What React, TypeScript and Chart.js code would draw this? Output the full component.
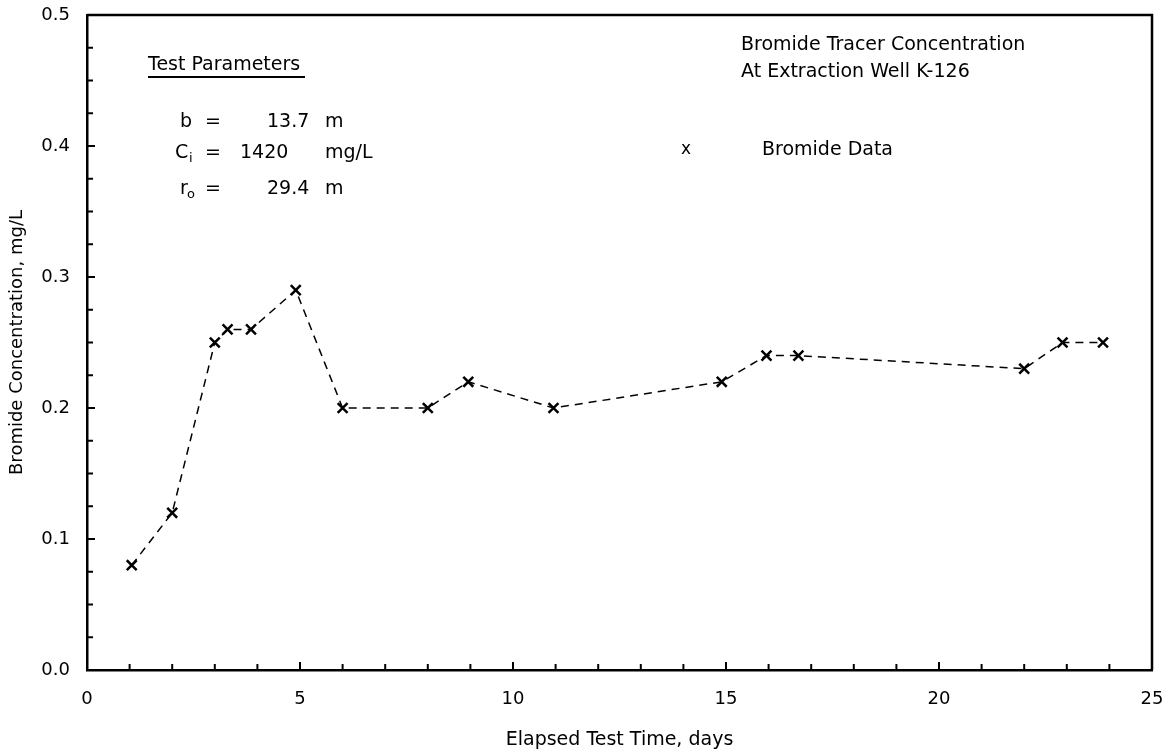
import React, { useEffect, useRef } from "react";
import { Chart, registerables } from "chart.js";

Chart.register(...registerables);

// ---- data ----
const elapsedDays: number[] = [1.05, 2.0, 3.0, 3.3, 3.85, 4.9, 6.0, 8.0, 8.95, 10.95, 14.9, 15.95, 16.7, 22.0, 22.9, 23.85];
const bromideMgL: number[] = [0.08, 0.12, 0.25, 0.26, 0.26, 0.29, 0.2, 0.2, 0.22, 0.2, 0.22, 0.24, 0.24, 0.23, 0.25, 0.25];
const xTickValues: number[] = [0, 5, 10, 15, 20, 25];
const yTickValues: number[] = [0.0, 0.1, 0.2, 0.3, 0.4, 0.5];
const seriesName = "Bromide Data";
const chartTitleLines: string[] = ["Bromide Tracer Concentration", "At Extraction Well K-126"];
const xAxisTitle = "Elapsed Test Time, days";
const yAxisTitle = "Bromide Concentration, mg/L";

const FONT = "'DejaVu Sans', 'Liberation Sans', Arial, sans-serif";

const innerTicksAndText = {
  id: "innerTicksAndText",
  afterDraw(chart: any) {
    const { ctx, chartArea, scales } = chart;
    const xs = scales.x;
    const ys = scales.y;
    ctx.save();
    ctx.strokeStyle = "#000";
    // frame top & right
    ctx.lineWidth = 2.5;
    ctx.beginPath();
    ctx.moveTo(chartArea.left, chartArea.top);
    ctx.lineTo(chartArea.right, chartArea.top);
    ctx.lineTo(chartArea.right, chartArea.bottom);
    ctx.stroke();
    // inner ticks x
    ctx.lineWidth = 2;
    for (let v = xs.min; v <= xs.max + 1e-9; v += 1) {
      if (v === xs.min || v === xs.max) continue;
      const px = xs.getPixelForValue(v);
      const len = Math.round(v) % 5 === 0 ? 8 : 6;
      ctx.beginPath();
      ctx.moveTo(px, chartArea.bottom);
      ctx.lineTo(px, chartArea.bottom - len);
      ctx.stroke();
    }
    // inner ticks y
    for (let i = 1; i < 20; i++) {
      const v = i * 0.025;
      const py = ys.getPixelForValue(v);
      const len = i % 4 === 0 ? 8 : 6;
      ctx.beginPath();
      ctx.moveTo(chartArea.left, py);
      ctx.lineTo(chartArea.left + len, py);
      ctx.stroke();
    }

    // annotations
    ctx.fillStyle = "#000";
    ctx.textBaseline = "middle";
    ctx.textAlign = "left";
    ctx.font = `19px ${FONT}`;
    ctx.fillText("Test Parameters", 148, 65);
    ctx.lineWidth = 2;
    ctx.beginPath();
    ctx.moveTo(148, 77);
    ctx.lineTo(305, 77);
    ctx.stroke();

    // b row
    ctx.fillText("b", 180, 122);
    ctx.fillText("=", 205, 122);
    ctx.fillText("13.7", 267, 122);
    ctx.fillText("m", 325, 122);
    // Ci row
    ctx.fillText("C", 175, 153);
    ctx.font = `13px ${FONT}`;
    ctx.fillText("i", 189, 159);
    ctx.font = `19px ${FONT}`;
    ctx.fillText("=", 205, 153);
    ctx.fillText("1420", 240, 153);
    ctx.fillText("mg/L", 325, 153);
    // ro row
    ctx.fillText("r", 180, 189);
    ctx.font = `13px ${FONT}`;
    ctx.fillText("o", 187, 195);
    ctx.font = `19px ${FONT}`;
    ctx.fillText("=", 205, 189);
    ctx.fillText("29.4", 267, 189);
    ctx.fillText("m", 325, 189);

    // title lines
    ctx.fillText(chartTitleLines[0], 741, 45);
    ctx.fillText(chartTitleLines[1], 741, 72);

    // legend
    ctx.font = `17px ${FONT}`;
    ctx.textAlign = "center";
    ctx.fillText("x", 686, 150);
    ctx.textAlign = "left";
    ctx.font = `19px ${FONT}`;
    ctx.fillText(seriesName, 762, 150);
    ctx.restore();
  },
};

export default function App() {
  const canvasRef = useRef<HTMLCanvasElement | null>(null);

  useEffect(() => {
    if (!canvasRef.current) return;
    const points = elapsedDays.map((d, i) => ({ x: d, y: bromideMgL[i] }));
    const chart = new Chart(canvasRef.current, {
      type: "scatter",
      data: {
        datasets: [
          {
            label: seriesName,
            data: points,
            showLine: true,
            borderColor: "#000",
            backgroundColor: "#000",
            borderWidth: 1.5,
            borderDash: [8, 6],
            pointStyle: "crossRot",
            pointRadius: 7,
            pointBorderWidth: 2.5,
            pointBorderColor: "#000",
            pointHoverRadius: 7,
            tension: 0,
          },
        ],
      },
      options: {
        animation: false,
        responsive: true,
        maintainAspectRatio: false,
        layout: { padding: { top: 15, right: 16, left: 0, bottom: 0 } },
        plugins: {
          legend: { display: false },
          tooltip: { enabled: false },
          title: { display: false },
        },
        scales: {
          x: {
            type: "linear",
            min: 0,
            max: 25,
            afterFit: (s: any) => {
              s.height = 82;
              s.paddingLeft = 0;
              s.paddingRight = 0;
            },
            afterBuildTicks: (s: any) => {
              s.ticks = xTickValues.map((v) => ({ value: v }));
            },
            grid: { display: false, drawTicks: false },
            border: { display: true, color: "#000", width: 2.5 },
            ticks: {
              color: "#000",
              padding: 19,
              maxRotation: 0,
              autoSkip: false,
              font: { family: FONT, size: 18 },
              callback: (v: any) => String(v),
            },
            title: {
              display: true,
              text: xAxisTitle,
              color: "#000",
              font: { family: FONT, size: 19 },
              padding: { top: 0, bottom: 1 },
            },
          },
          y: {
            type: "linear",
            min: 0,
            max: 0.5,
            afterFit: (s: any) => {
              s.width = 87;
              s.paddingTop = 0;
              s.paddingBottom = 0;
            },
            afterBuildTicks: (s: any) => {
              s.ticks = yTickValues.map((v) => ({ value: v }));
            },
            grid: { display: false, drawTicks: false },
            border: { display: true, color: "#000", width: 2.5 },
            ticks: {
              color: "#000",
              padding: 17,
              autoSkip: false,
              font: { family: FONT, size: 18 },
              callback: (v: any) => Number(v).toFixed(1),
            },
            title: {
              display: true,
              text: yAxisTitle,
              color: "#000",
              font: { family: FONT, size: 18 },
              padding: { top: 7, bottom: 0 },
            },
          },
        },
      },
      plugins: [innerTicksAndText],
    });
    return () => chart.destroy();
  }, []);

  return (
    <div style={{ position: "absolute", left: 0, top: 0, width: 1168, height: 752, background: "#fff" }}>
      <canvas ref={canvasRef} />
    </div>
  );
}
